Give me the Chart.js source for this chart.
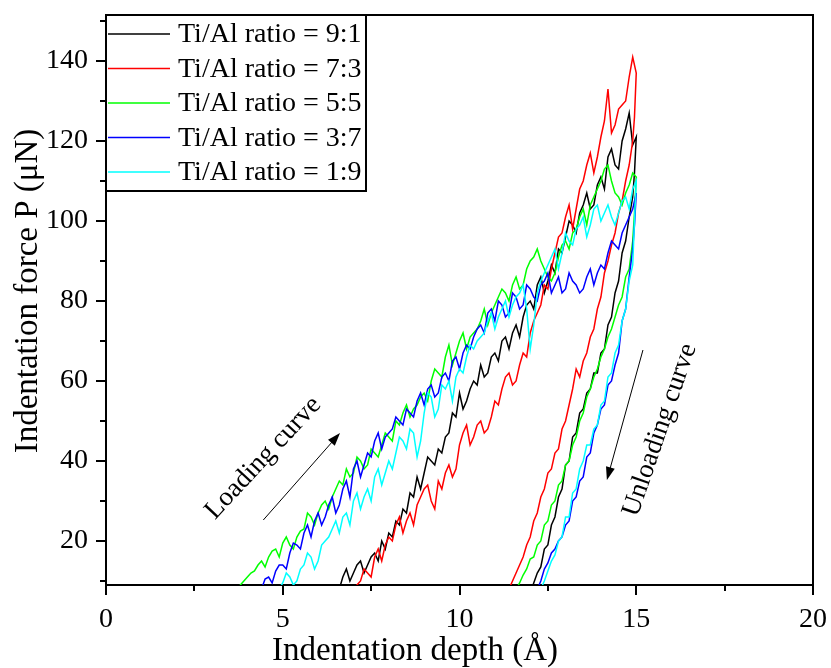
<!doctype html>
<html lang="en">
<head>
  <meta charset="utf-8">
  <title>Indentation force vs depth</title>
  <style>
    body { margin: 0; background: #fff; }
    #wrap { width: 831px; height: 668px; }
  </style>
</head>
<body>
  <div id="wrap"><canvas id="chart" width="831" height="668"></canvas></div>

  <script src="https://cdn.jsdelivr.net/npm/chart.js@4.4.1/dist/chart.umd.min.js"></script>
  <script>
    // series labels / colours
    const seriesLabels = ['Ti/Al ratio = 9:1', 'Ti/Al ratio = 7:3', 'Ti/Al ratio = 5:5', 'Ti/Al ratio = 3:7', 'Ti/Al ratio = 1:9'];
    const seriesColors = ['#000000', '#ff0000', '#00ff00', '#0000ff', '#00ffff'];

    // axis ticks
    const xTicks = [0, 5, 10, 15, 20];
    const xMinorTicks = [2.5, 7.5, 12.5, 17.5];
    const yTicks = [20, 40, 60, 80, 100, 120, 140];
    const yMinorTicks = [10, 30, 50, 70, 90, 110, 130, 150];

    // Ti/Al 9:1 (loading then unloading), depth in Å, force in μN
    const depth91 = [6.6, 6.7, 6.8, 6.9, 7.0, 7.1, 7.2, 7.3, 7.4, 7.5, 7.6, 7.7, 7.8, 7.9, 8.0, 8.1, 8.2, 8.3, 8.4, 8.5, 8.6, 8.7, 8.8, 8.9, 9.0, 9.1, 9.2, 9.3, 9.4, 9.5, 9.6, 9.7, 9.8, 9.9, 10.0, 10.1, 10.2, 10.3, 10.4, 10.5, 10.6, 10.7, 10.8, 10.9, 11.0, 11.1, 11.2, 11.3, 11.4, 11.5, 11.6, 11.7, 11.8, 11.9, 12.0, 12.1, 12.2, 12.3, 12.4, 12.5, 12.6, 12.7, 12.8, 12.9, 13.0, 13.1, 13.2, 13.3, 13.4, 13.5, 13.6, 13.7, 13.8, 13.9, 14.0, 14.1, 14.2, 14.3, 14.4, 14.5, 14.6, 14.7, 14.8, 14.9, 15.0,
      14.95, 14.9, 14.8, 14.7, 14.6, 14.5, 14.4, 14.3, 14.2, 14.1, 14.0, 13.9, 13.8, 13.7, 13.6, 13.5, 13.4, 13.3, 13.2, 13.1, 13.0, 12.9, 12.8, 12.7, 12.6, 12.5, 12.4, 12.3, 12.2, 12.1, 12.0];
    const force91 = [8, 11, 13, 10, 12, 14, 15, 12, 14, 16, 17, 15, 20, 18, 22, 21, 25, 24, 28, 27, 32, 31, 36, 33, 37, 41, 40, 39, 43, 42, 46, 47, 52, 51, 57, 53, 55, 58, 60, 59, 64, 61, 62, 66, 67, 65, 70, 71, 68, 72, 74, 71, 76, 79, 80, 78, 84, 86, 82, 85, 89, 87, 93, 92, 96, 100, 99, 97, 102, 104, 107, 103, 104, 109, 111, 108, 116, 118, 114, 113, 120, 123, 127, 119, 121,
      112, 106, 101, 95, 92, 85, 82, 76, 74, 68, 67, 62, 62, 58, 57, 53, 52, 47, 46, 40, 39, 33, 31, 26, 24, 19, 18, 13.5, 12, 9.5, 7];

    // Ti/Al 7:3
    const depth73 = [7.0, 7.1, 7.2, 7.3, 7.4, 7.5, 7.6, 7.7, 7.8, 7.9, 8.0, 8.1, 8.2, 8.3, 8.4, 8.5, 8.6, 8.7, 8.8, 8.9, 9.0, 9.1, 9.2, 9.3, 9.4, 9.5, 9.6, 9.7, 9.8, 9.9, 10.0, 10.1, 10.2, 10.3, 10.4, 10.5, 10.6, 10.7, 10.8, 10.9, 11.0, 11.1, 11.2, 11.3, 11.4, 11.5, 11.6, 11.7, 11.8, 11.9, 12.0, 12.1, 12.2, 12.3, 12.4, 12.5, 12.6, 12.7, 12.8, 12.9, 13.0, 13.1, 13.2, 13.3, 13.4, 13.5, 13.6, 13.7, 13.8, 13.9, 14.0, 14.1, 14.2, 14.3, 14.4, 14.5, 14.6, 14.7, 14.8, 14.9, 15.0,
      14.95, 14.9, 14.8, 14.7, 14.6, 14.5, 14.4, 14.3, 14.2, 14.1, 14.0, 13.9, 13.8, 13.7, 13.6, 13.5, 13.4, 13.3, 13.2, 13.1, 13.0, 12.9, 12.8, 12.7, 12.6, 12.5, 12.4, 12.3, 12.2, 12.1, 12.0, 11.9, 11.8, 11.7, 11.6, 11.5, 11.4];
    const force73 = [7, 9, 10, 13, 12, 11, 16, 18, 15, 19, 21, 20, 24, 26, 22, 25, 27, 24, 29, 31, 33, 34, 30, 28, 35, 33, 37, 39, 36, 38, 44, 47, 49, 44, 46, 49, 50, 47, 48, 51, 55, 54, 58, 61, 62, 59, 60, 64, 67, 66, 72, 75, 77, 79, 84, 83, 88, 92, 96, 97, 101, 104, 98, 103, 108, 110, 114, 117, 112, 116, 121, 125, 133, 122, 124, 128, 129, 130, 136, 141, 137,
      126, 120, 114, 110, 105, 102, 97, 94, 90, 87, 81, 78, 73, 71, 67, 65, 61, 63, 58, 54, 50, 48, 43, 42, 38, 37, 33, 31, 27, 25, 21, 19, 16, 14, 12, 10, 8];

    // Ti/Al 5:5
    const depth55 = [3.6, 3.7, 3.8, 3.9, 4.0, 4.1, 4.2, 4.3, 4.4, 4.5, 4.6, 4.7, 4.8, 4.9, 5.0, 5.1, 5.2, 5.3, 5.4, 5.5, 5.6, 5.7, 5.8, 5.9, 6.0, 6.1, 6.2, 6.3, 6.4, 6.5, 6.6, 6.7, 6.8, 6.9, 7.0, 7.1, 7.2, 7.3, 7.4, 7.5, 7.6, 7.7, 7.8, 7.9, 8.0, 8.1, 8.2, 8.3, 8.4, 8.5, 8.6, 8.7, 8.8, 8.9, 9.0, 9.1, 9.2, 9.3, 9.4, 9.5, 9.6, 9.7, 9.8, 9.9, 10.0, 10.1, 10.2, 10.3, 10.4, 10.5, 10.6, 10.7, 10.8, 10.9, 11.0, 11.1, 11.2, 11.3, 11.4, 11.5, 11.6, 11.7, 11.8, 11.9, 12.0, 12.1, 12.2, 12.3, 12.4, 12.5, 12.6, 12.7, 12.8, 12.9, 13.0, 13.1, 13.2, 13.3, 13.4, 13.5, 13.6, 13.7, 13.8, 13.9, 14.0, 14.1, 14.2, 14.3, 14.4, 14.5, 14.6, 14.7, 14.8, 14.9, 15.0,
      14.95, 14.9, 14.8, 14.7, 14.6, 14.5, 14.4, 14.3, 14.2, 14.1, 14.0, 13.9, 13.8, 13.7, 13.6, 13.5, 13.4, 13.3, 13.2, 13.1, 13.0, 12.9, 12.8, 12.7, 12.6, 12.5, 12.4, 12.3, 12.2, 12.1, 12.0, 11.9, 11.8, 11.7, 11.6];
    const force55 = [7, 8, 9, 10, 11, 12, 12.5, 14, 15, 13.5, 16, 17.5, 18, 16, 19.5, 21, 19, 18, 21, 22.5, 23, 27, 26, 24, 27, 29, 30, 28, 31, 33, 35, 34, 38, 36, 37, 41, 40, 38, 39, 43, 42, 41, 44, 47, 46, 45, 50, 49, 52, 54, 51, 53, 54, 56, 57, 55, 60, 63, 62, 61, 66, 69, 64, 67, 70, 72, 68, 71, 72, 73, 75, 78, 74, 77, 79, 81, 83, 82, 80, 84, 86, 83, 84, 88, 90, 91, 93, 90, 88, 86, 85, 87, 91, 94, 95, 93, 97, 98, 101, 103, 99, 104, 106, 108, 110, 113, 114, 110, 107, 106, 104, 107, 109, 112, 111,
      102, 95, 88, 86, 81, 79, 76, 73, 71, 68, 66, 63, 61, 58, 56, 52, 50, 46, 44, 40, 39, 35, 34, 30, 29, 25, 24, 20, 19, 16, 15.5, 13, 11.5, 9.5, 8];

    // Ti/Al 3:7
    const depth37 = [4.4, 4.5, 4.6, 4.7, 4.8, 4.9, 5.0, 5.1, 5.2, 5.3, 5.4, 5.5, 5.6, 5.7, 5.8, 5.9, 6.0, 6.1, 6.2, 6.3, 6.4, 6.5, 6.6, 6.7, 6.8, 6.9, 7.0, 7.1, 7.2, 7.3, 7.4, 7.5, 7.6, 7.7, 7.8, 7.9, 8.0, 8.1, 8.2, 8.3, 8.4, 8.5, 8.6, 8.7, 8.8, 8.9, 9.0, 9.1, 9.2, 9.3, 9.4, 9.5, 9.6, 9.7, 9.8, 9.9, 10.0, 10.1, 10.2, 10.3, 10.4, 10.5, 10.6, 10.7, 10.8, 10.9, 11.0, 11.1, 11.2, 11.3, 11.4, 11.5, 11.6, 11.7, 11.8, 11.9, 12.0, 12.1, 12.2, 12.3, 12.4, 12.5, 12.6, 12.7, 12.8, 12.9, 13.0, 13.1, 13.2, 13.3, 13.4, 13.5, 13.6, 13.7, 13.8, 13.9, 14.0, 14.1, 14.2, 14.3, 14.4, 14.5, 14.6, 14.7, 14.8, 14.9, 15.0,
      14.95, 14.9, 14.8, 14.7, 14.6, 14.5, 14.4, 14.3, 14.2, 14.1, 14.0, 13.9, 13.8, 13.7, 13.6, 13.5, 13.4, 13.3, 13.2, 13.1, 13.0, 12.9, 12.8, 12.7, 12.6, 12.5, 12.4, 12.3, 12.2];
    const force37 = [8, 10.5, 11, 9.5, 12.5, 14, 14, 13, 17, 19.5, 19, 18, 22, 24, 21, 25, 27, 24, 26, 29, 31, 27, 29, 33, 35, 31, 38, 40, 36, 39, 42, 41, 45, 47, 43, 46, 47, 48, 51, 50, 49, 53, 52, 51, 55, 57, 54, 58, 59, 56, 57, 61, 62, 60, 65, 66, 63, 67, 69, 68, 71, 73, 74, 72, 77, 78, 75, 80, 79, 76, 77, 82, 81, 78, 79, 84, 83, 81, 80, 84, 85, 87, 82, 84, 86, 82, 83, 87, 85, 84, 82, 83, 86, 88, 84, 87, 89, 88, 92, 95, 94, 93, 97, 99, 101, 103, 107,
      99, 93, 86, 78, 75, 67, 64, 60, 59, 54, 53, 49, 47, 42, 41, 36, 35, 31, 30, 25, 24, 21, 20, 18, 17, 14.5, 13, 10, 8];

    // Ti/Al 1:9
    const depth19 = [4.8, 4.9, 5.0, 5.1, 5.2, 5.3, 5.4, 5.5, 5.6, 5.7, 5.8, 5.9, 6.0, 6.1, 6.2, 6.3, 6.4, 6.5, 6.6, 6.7, 6.8, 6.9, 7.0, 7.1, 7.2, 7.3, 7.4, 7.5, 7.6, 7.7, 7.8, 7.9, 8.0, 8.1, 8.2, 8.3, 8.4, 8.5, 8.6, 8.7, 8.8, 8.9, 9.0, 9.1, 9.2, 9.3, 9.4, 9.5, 9.6, 9.7, 9.8, 9.9, 10.0, 10.1, 10.2, 10.3, 10.4, 10.5, 10.6, 10.7, 10.8, 10.9, 11.0, 11.1, 11.2, 11.3, 11.4, 11.5, 11.6, 11.7, 11.8, 11.9, 12.0, 12.1, 12.2, 12.3, 12.4, 12.5, 12.6, 12.7, 12.8, 12.9, 13.0, 13.1, 13.2, 13.3, 13.4, 13.5, 13.6, 13.7, 13.8, 13.9, 14.0, 14.1, 14.2, 14.3, 14.4, 14.5, 14.6, 14.7, 14.8, 14.9, 15.0,
      14.95, 14.9, 14.8, 14.7, 14.6, 14.5, 14.4, 14.3, 14.2, 14.1, 14.0, 13.9, 13.8, 13.7, 13.6, 13.5, 13.4, 13.3, 13.2, 13.1, 13.0, 12.9, 12.8, 12.7, 12.6, 12.5, 12.4, 12.3];
    const force19 = [6, 8, 9.5, 12, 11, 9, 10, 13, 14, 17, 16, 13, 15, 19, 20, 21, 23, 25, 22, 26, 27, 24, 30, 32, 28, 31, 33, 30, 36, 38, 34, 37, 40, 38, 42, 46, 45, 43, 48, 47, 41, 45, 52, 57, 56, 51, 53, 59, 58, 60, 55, 61, 63, 62, 66, 69, 68, 70, 71, 72, 75, 77, 73, 76, 78, 80, 76, 79, 81, 82, 84, 78, 68, 74, 82, 85, 87, 89, 91, 93, 88, 92, 97, 95, 94, 98, 99, 101, 96, 99, 103, 104, 100, 102, 104, 101, 99, 102, 105, 106, 103, 108, 110,
      100, 89, 85, 78, 75, 69, 67, 62, 61, 55, 54, 49, 48, 44, 44, 40, 38, 33, 32, 26, 26, 21, 20, 16.5, 15, 12.5, 10, 8];

    const depths = [depth91, depth73, depth55, depth37, depth19];
    const forces = [force91, force73, force55, force37, force19];

    const serif = "'Liberation Serif', 'Times New Roman', serif";

    function arrow(ctx, x1, y1, x2, y2) {
      const ang = Math.atan2(y2 - y1, x2 - x1);
      ctx.beginPath();
      ctx.moveTo(x1, y1);
      ctx.lineTo(x2 - 8 * Math.cos(ang), y2 - 8 * Math.sin(ang));
      ctx.stroke();
      ctx.beginPath();
      ctx.moveTo(x2, y2);
      ctx.lineTo(x2 - 13 * Math.cos(ang) + 4.5 * Math.sin(ang), y2 - 13 * Math.sin(ang) - 4.5 * Math.cos(ang));
      ctx.lineTo(x2 - 13 * Math.cos(ang) - 4.5 * Math.sin(ang), y2 - 13 * Math.sin(ang) + 4.5 * Math.cos(ang));
      ctx.closePath();
      ctx.fill();
    }

    // frame, minor ticks, titles, legend box and the two annotations
    const decorations = {
      id: 'decorations',
      afterDraw(chart) {
        const ctx = chart.ctx;
        const a = chart.chartArea;
        const xs = chart.scales.x, ys = chart.scales.y;
        ctx.save();
        ctx.strokeStyle = '#000';
        ctx.fillStyle = '#000';
        ctx.lineWidth = 2;

        ctx.beginPath();
        ctx.moveTo(a.left, a.top);
        ctx.lineTo(a.right, a.top);
        ctx.lineTo(a.right, a.bottom);
        ctx.stroke();

        ctx.beginPath();
        xMinorTicks.forEach(v => {
          const px = Math.round(xs.getPixelForValue(v));
          ctx.moveTo(px, a.bottom);
          ctx.lineTo(px, a.bottom + 6);
        });
        yMinorTicks.forEach(v => {
          const py = Math.round(ys.getPixelForValue(v));
          ctx.moveTo(a.left, py);
          ctx.lineTo(a.left - 6, py);
        });
        ctx.stroke();

        // axis titles
        ctx.font = '33px ' + serif;
        ctx.textAlign = 'center';
        ctx.textBaseline = 'alphabetic';
        ctx.fillText('Indentation depth (Å)', 415, 660);
        ctx.save();
        ctx.translate(37, 291);
        ctx.rotate(-Math.PI / 2);
        ctx.fillText('Indentation force P (μN)', 0, 0);
        ctx.restore();

        // legend
        ctx.fillStyle = '#fff';
        ctx.fillRect(a.left, a.top, 260, 176);
        ctx.strokeRect(a.left, a.top, 260, 176);
        ctx.font = '28px ' + serif;
        ctx.textAlign = 'left';
        ctx.textBaseline = 'middle';
        seriesLabels.forEach((lab, i) => {
          const yy = a.top + 19 + i * 34.5;
          ctx.strokeStyle = seriesColors[i];
          ctx.lineWidth = 1.5;
          ctx.beginPath();
          ctx.moveTo(a.left + 2, yy);
          ctx.lineTo(a.left + 64, yy);
          ctx.stroke();
          ctx.fillStyle = '#000';
          ctx.fillText(lab, a.left + 72, yy + 1);
        });

        // annotations
        ctx.strokeStyle = '#000';
        ctx.fillStyle = '#000';
        ctx.lineWidth = 1;
        arrow(ctx, xs.getPixelForValue(4.45), ys.getPixelForValue(25.25), xs.getPixelForValue(6.62), ys.getPixelForValue(47));
        arrow(ctx, xs.getPixelForValue(15.19), ys.getPixelForValue(67.75), xs.getPixelForValue(14.17), ys.getPixelForValue(35.25));

        ctx.font = '27px ' + serif;
        ctx.textAlign = 'center';
        ctx.textBaseline = 'middle';
        ctx.save();
        ctx.translate(xs.getPixelForValue(4.45), ys.getPixelForValue(40.75));
        ctx.rotate(-47 * Math.PI / 180);
        ctx.fillText('Loading curve', 0, 0);
        ctx.restore();
        ctx.save();
        ctx.translate(xs.getPixelForValue(15.67), ys.getPixelForValue(47.75));
        ctx.rotate(-71 * Math.PI / 180);
        ctx.fillText('Unloading curve', 0, 0);
        ctx.restore();

        ctx.restore();
      }
    };

    const datasets = seriesLabels.map((lab, i) => ({
      label: lab,
      data: depths[i].map((d, j) => ({x: d, y: forces[i][j]})),
      borderColor: seriesColors[i],
      backgroundColor: seriesColors[i],
      borderWidth: 1.5,
      showLine: true,
      pointRadius: 0,
      tension: 0,
      order: 5 - i
    }));

    new Chart(document.getElementById('chart'), {
      type: 'scatter',
      data: { datasets: datasets },
      options: {
        responsive: false,
        animation: false,
        layout: { padding: { top: 15, right: 18, left: 0, bottom: 0 } },
        plugins: { legend: { display: false }, tooltip: { enabled: false } },
        scales: {
          x: {
            type: 'linear',
            min: 0,
            max: 20,
            afterFit: s => { s.height = 83; s.paddingLeft = 0; s.paddingRight = 0; },
            afterBuildTicks: s => { s.ticks = xTicks.map(v => ({value: v})); },
            border: { color: '#000', width: 2 },
            grid: { drawOnChartArea: false, color: '#000', lineWidth: 2, tickLength: 10 },
            ticks: { color: '#000', padding: 8, font: { family: serif, size: 28 }, maxRotation: 0 }
          },
          y: {
            type: 'linear',
            min: 9,
            max: 151.5,
            afterFit: s => { s.width = 106; s.paddingTop = 0; s.paddingBottom = 0; },
            afterBuildTicks: s => { s.ticks = yTicks.map(v => ({value: v})); },
            border: { color: '#000', width: 2 },
            grid: { drawOnChartArea: false, color: '#000', lineWidth: 2, tickLength: 10 },
            ticks: { color: '#000', padding: 8, font: { family: serif, size: 28 } }
          }
        }
      },
      plugins: [decorations]
    });
  </script>
</body>
</html>
